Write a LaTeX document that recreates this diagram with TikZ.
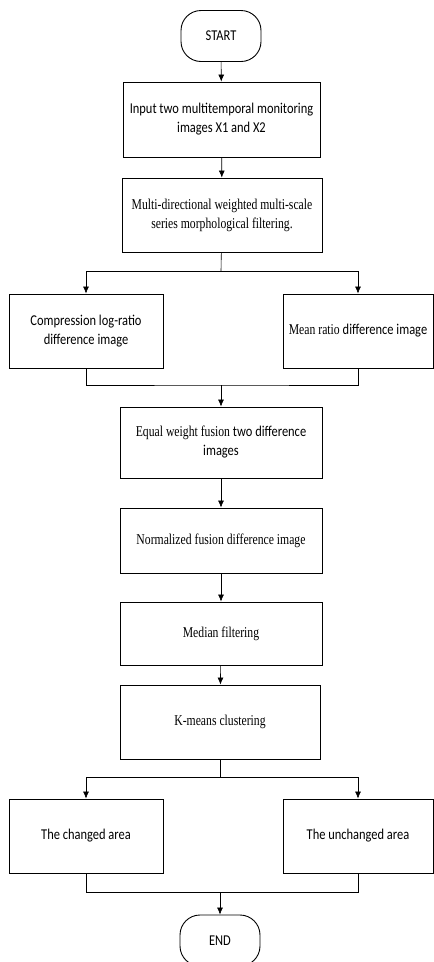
\documentclass[tikz,border=0pt]{standalone}
\usepackage{fontspec}
\usetikzlibrary{arrows.meta}
\newfontfamily\calfont{Carlito}[FakeStretch=0.83]
\newfontfamily\timesfont{Liberation Serif}[FakeStretch=0.78]
\tikzstyle{proc}=[rectangle, draw, line width=0.9pt, align=center, inner sep=2pt, font=\fontsize{15}{19}\selectfont]
\tikzstyle{term}=[proc, rounded corners=20pt, minimum width=80pt, minimum height=51pt]
\tikzstyle{flow}=[line width=0.6pt, -{Latex[length=7pt,width=6pt]}]
\newcommand{\proc}{\node[proc]}
\newcommand{\startend}{\node[term]}

\begin{document}
\begin{tikzpicture}[x=1pt,y=-1pt]
\useasboundingbox (0,0) rectangle (434,962);
\startend (start) at (221,36){\calfont START};
\proc[minimum width=197pt, minimum height=75pt] (input) at (221.5,119.5){\calfont Input two multitemporal monitoring\\\calfont images X1 and X2};
\proc[minimum width=200pt, minimum height=74pt] (multi) at (222,215){\timesfont Multi-directional weighted multi-scale\\\timesfont series morphological filtering.};
\proc[minimum width=154pt, minimum height=74pt] (clr) at (86,331){\calfont Compression log-ratio\\\calfont difference image};
\proc[minimum width=150pt, minimum height=74pt] (mr) at (358,331){\timesfont Mean ratio \calfont difference image};
\proc[minimum width=202pt, minimum height=71pt] (fuse) at (221,442.5){\timesfont Equal weight fusion \calfont two difference\\\calfont images};
\proc[minimum width=202pt, minimum height=65pt] (norm) at (221,540.5){\timesfont Normalized fusion difference image};
\proc[minimum width=202pt, minimum height=63pt] (median) at (221,633.5){\timesfont Median filtering};
\proc[minimum width=200pt, minimum height=74pt] (kmeans) at (220,722){\timesfont K-means clustering};
\proc[minimum width=154pt, minimum height=74pt] (chg) at (86,836){\calfont The changed area};
\proc[minimum width=150pt, minimum height=74pt] (unchg) at (358,836){\calfont The unchanged area};
\startend (end) at (220,940.5){\calfont END};

\foreach \a/\b in {start/input, input/multi, fuse/norm, norm/median, median/kmeans}{
	\draw[flow] (\a) -- (\b);
	}
% split and join
\coordinate (s1) at (221,271);
\coordinate (j1) at (221,385);
\coordinate (s2) at (220,777);
\coordinate (j2) at (220,892);
\draw[line width=0.6pt] (multi) -- (s1);
\draw[flow] (s1) -| (clr);
\draw[flow] (s1) -| (mr);
\draw[line width=0.6pt] (clr) |- (j1) -| (mr);
\draw[flow] (j1) -- (fuse);
\draw[line width=0.6pt] (kmeans) -- (s2);
\draw[flow] (s2) -| (chg);
\draw[flow] (s2) -| (unchg);
\draw[line width=0.6pt] (chg) |- (j2) -| (unchg);
\draw[flow] (j2) -- (end);
\end{tikzpicture}
\end{document}
